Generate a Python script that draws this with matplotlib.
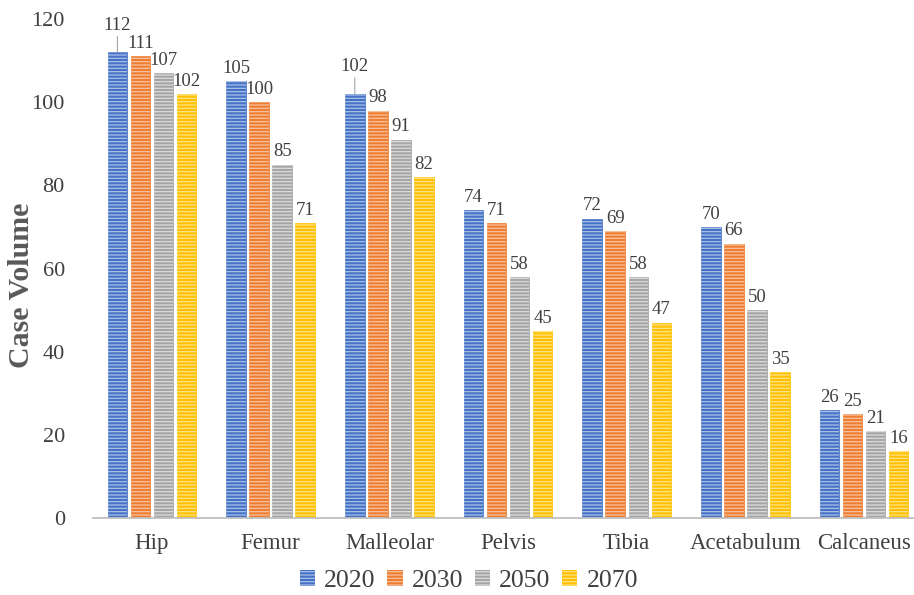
import numpy as np
import matplotlib.pyplot as plt
from matplotlib.patches import Patch

plt.rcParams['font.family'] = ['Liberation Serif', 'DejaVu Serif']
plt.rcParams['hatch.linewidth'] = 0.9

categories = ["Hip", "Femur", "Malleolar", "Pelvis", "Tibia", "Acetabulum", "Calcaneus"]
years = ["2020", "2030", "2050", "2070"]
v2020 = [112, 105, 102, 74, 72, 70, 26]
v2030 = [111, 100, 98, 71, 69, 66, 25]
v2050 = [107, 85, 91, 58, 58, 50, 21]
v2070 = [102, 71, 82, 45, 47, 35, 16]
series = [v2020, v2030, v2050, v2070]
colors = ["#4472C4", "#ED7D31", "#A5A5A5", "#FFC000"]
hatch_colors = ["#A9C0EA", "#F8C3A0", "#DCDCDC", "#FFE38A"]

# labels that Excel pushed up with a leader line: (series, category)
raised = {(0, 0), (0, 2)}

fig = plt.figure(figsize=(9.14, 5.95), dpi=100)
ax = fig.add_axes([0.1013, 0.1294, 0.8987, 0.8386])

x = np.arange(len(categories))
pitch = 0.194
width = 0.164
txt = "#404040"

for i, vals in enumerate(series):
    xs = x + (i - 1.5) * pitch
    ax.bar(xs, vals, width, color=colors[i], edgecolor=colors[i], linewidth=0.5)
    ax.bar(xs, vals, width, facecolor="none", edgecolor=hatch_colors[i],
           hatch="-----", linewidth=0)
    for j, (xx, v) in enumerate(zip(xs, vals)):
        if (i, j) in raised:
            ax.annotate(str(v), xy=(xx, v), xytext=(xx, v + 4.5),
                        ha="center", va="bottom", fontsize=13.5, color=txt,
                        arrowprops=dict(arrowstyle="-", color="#A6A6A6", lw=0.8,
                                        shrinkA=0, shrinkB=0))
        else:
            ax.annotate(str(v), xy=(xx, v), xytext=(0, 3), textcoords="offset points",
                        ha="center", va="bottom", fontsize=13.5, color=txt)

ax.set_xlim(-0.5, 6.42)
ax.set_ylim(0, 120)
ax.set_yticks(range(0, 121, 20))
ax.set_xticks(x)
ax.set_xticklabels(categories)
ax.tick_params(axis="both", length=0, colors=txt)
ax.tick_params(axis="x", pad=11, labelsize=16.5)
ax.tick_params(axis="y", pad=20, labelsize=16)
for s in ["top", "right", "left"]:
    ax.spines[s].set_visible(False)
ax.spines["bottom"].set_color("#BFBFBF")
ax.spines["bottom"].set_linewidth(1.3)

ax.set_ylabel("Case Volume", fontsize=21.5, fontweight="bold", color="#595959",
              va="center")
ax.yaxis.set_label_coords(-0.086, 0.467)

handles = [Patch(facecolor=colors[i], edgecolor=hatch_colors[i], hatch="-----", linewidth=0)
           for i in range(4)]
fig.legend(handles, years, loc="center", bbox_to_anchor=(0.513, 0.024), ncol=4,
           frameon=False, fontsize=18.5, handlelength=0.6, handleheight=0.6,
           handletextpad=0.35, columnspacing=0.45, labelcolor=txt)

fig.savefig("out.png", dpi=100)
